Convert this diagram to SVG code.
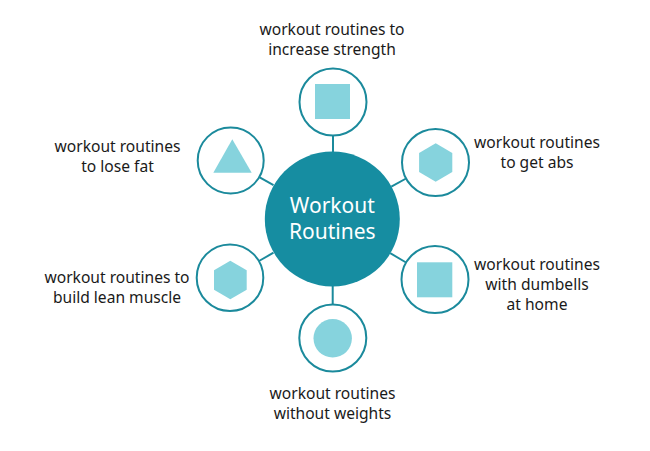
<svg xmlns="http://www.w3.org/2000/svg" width="650" height="451" viewBox="0 0 650 451">
<style>
.ring{fill:#fff;stroke:#1b8a9c;stroke-width:2}
.shape{fill:#86d3dd}
.conn line{stroke:#1b8a9c;stroke-width:2}
.lbl{font-family:"Noto Sans",sans-serif;font-size:15.6px;fill:#1a1a1a;text-anchor:middle}
.hub{font-family:"Noto Sans",sans-serif;font-size:21px;fill:#fff;text-anchor:middle}
</style>
<rect width="650" height="451" fill="#fff"/>
<g id="connectors" class="conn">
<line x1="333" y1="136" x2="333" y2="152"/>
<line x1="391.3" y1="186.7" x2="406.1" y2="178.5"/>
<line x1="390.2" y1="253.2" x2="406.1" y2="262.5"/>
<line x1="332.7" y1="286" x2="332.7" y2="305"/>
<line x1="273.5" y1="252.7" x2="259" y2="261"/>
<line x1="273.5" y1="185.2" x2="259.7" y2="177.3"/>
</g>
<g id="center">
<circle cx="332.3" cy="219" r="67.5" fill="#168da1"/>
<text class="hub" x="332.3" y="212.5">Workout</text>
<text class="hub" x="332.3" y="238.5">Routines</text>
</g>
<g id="node-strength">
<circle class="ring" cx="333" cy="102" r="33.5"/>
<rect class="shape" x="315" y="84" width="35" height="35"/>
<text class="lbl" x="332" y="35">workout routines to</text>
<text class="lbl" x="332" y="55">increase strength</text>
</g>
<g id="node-abs">
<circle class="ring" cx="435.5" cy="162.5" r="33.5"/>
<polygon class="shape" points="435.7,143.3 452.3,152.9 452.3,172.1 435.7,181.7 419.1,172.1 419.1,152.9"/>
<text class="lbl" x="537" y="148">workout routines</text>
<text class="lbl" x="537" y="168">to get abs</text>
</g>
<g id="node-dumbells">
<circle class="ring" cx="435" cy="279.5" r="33.5"/>
<rect class="shape" x="417" y="262.3" width="35.3" height="35"/>
<text class="lbl" x="537" y="270">workout routines</text>
<text class="lbl" x="537" y="290">with dumbells</text>
<text class="lbl" x="537" y="310">at home</text>
</g>
<g id="node-noweights">
<circle class="ring" cx="332.8" cy="338" r="33.5"/>
<circle class="shape" cx="332.7" cy="338.3" r="19.2"/>
<text class="lbl" x="332.5" y="398.5">workout routines</text>
<text class="lbl" x="332.5" y="418.5">without weights</text>
</g>
<g id="node-muscle">
<circle class="ring" cx="230" cy="277.7" r="33.3"/>
<polygon class="shape" points="230.3,260.7 246.7,270.3 246.7,289.7 230.3,299.3 214,289.7 214,270.3"/>
<text class="lbl" x="117" y="283">workout routines to</text>
<text class="lbl" x="117" y="303">build lean muscle</text>
</g>
<g id="node-fat">
<circle class="ring" cx="230.7" cy="160.5" r="33"/>
<polygon class="shape" points="232.3,139.3 251.7,172.7 213.3,172.7"/>
<text class="lbl" x="117.5" y="152">workout routines</text>
<text class="lbl" x="117.5" y="172">to lose fat</text>
</g>
</svg>
